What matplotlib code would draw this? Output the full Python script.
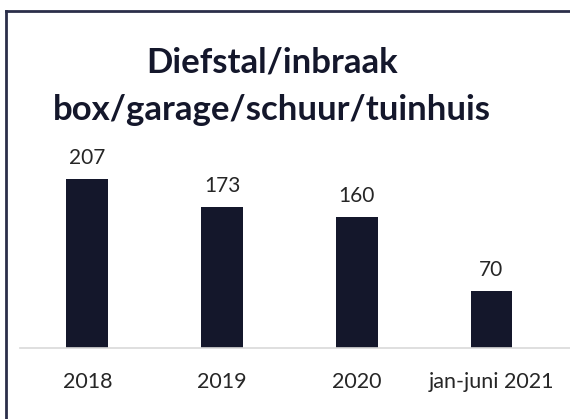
import matplotlib.pyplot as plt
from matplotlib.lines import Line2D

categories = ['2018', '2019', '2020', 'jan-juni 2021']
values = [207, 173, 160, 70]

plt.rcParams['font.family'] = ['Lato', 'DejaVu Sans']

fig = plt.figure(figsize=(5.7, 4.19), dpi=100)
W, H = 570, 419

# axes placed in pixel terms: left 20, baseline at y=348 (from top), top at 150
ax = fig.add_axes([20 / W, (H - 348) / H, 550 / W, 198 / H])
x = range(len(categories))
ax.bar(x, values, width=0.31, color='#14172b', zorder=2)
ax.set_xlim(-0.5, 3.583)
ax.set_ylim(0, 242.6)

for xi, v in zip(x, values):
    ax.annotate(str(v), (xi, v), xytext=(0, 8), textcoords='offset points',
                ha='center', va='bottom', fontsize=15, color='#262626')

ax.set_xticks(list(x))
ax.set_xticklabels(categories, fontsize=15.5, color='#262626')
ax.tick_params(axis='x', length=0, pad=17)
ax.set_yticks([])
for side in ['top', 'right', 'left']:
    ax.spines[side].set_visible(False)
ax.spines['bottom'].set_color('#d9d9d9')
ax.spines['bottom'].set_linewidth(1.2)

fig.text(272 / W, 1 - 86 / H, 'Diefstal/inbraak\nbox/garage/schuur/tuinhuis',
         ha='center', va='center', fontsize=25, fontweight='bold',
         color='#14172b', linespacing=1.6)

# frame: only left and top edges visible (cropped screenshot)
fig.add_artist(Line2D([6 / W, 6 / W], [0, 1 - 11 / H], transform=fig.transFigure,
                      color='#2b2f4a', linewidth=2))
fig.add_artist(Line2D([6 / W, 1], [1 - 11 / H, 1 - 11 / H], transform=fig.transFigure,
                      color='#2b2f4a', linewidth=2))

fig.savefig('out.png', dpi=100)
